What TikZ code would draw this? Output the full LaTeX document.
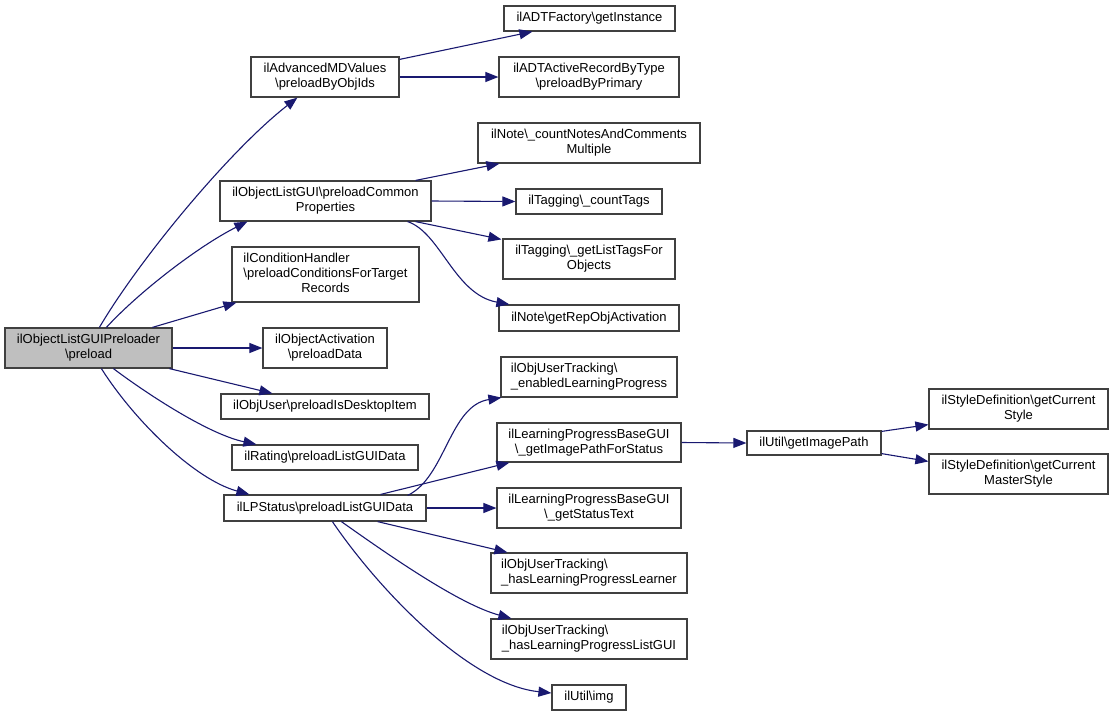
\documentclass[tikz,border=0pt]{standalone}
\usepackage{fontspec}
\setmainfont{Liberation Sans}
\usetikzlibrary{arrows.meta,calc}
\definecolor{edgec}{HTML}{191970}
\definecolor{rootfill}{HTML}{BFBFBF}
\newcommand{\bs}{\textbackslash}
\newcommand{\lt}[1]{\begin{tabular}{@{}l@{}}#1\end{tabular}}
\begin{document}
\begin{tikzpicture}[x=1pt,y=-1pt,
  box/.style={draw=black!75,line width=1.2pt,fill=white,inner sep=0pt,align=center,
    font=\fontsize{13}{15}\selectfont},
  edge/.style={draw=edgec,line width=1.1pt,-{Triangle[length=13pt,width=10pt]}}]
\useasboundingbox (0,0) rectangle (1113,716);
% column 1
\node[box,fill=rootfill,minimum width=167pt,minimum height=40pt] (root) at (88.5,348) {ilObjectListGUIPreloader\\\bs preload};
% column 2
\node[box,minimum width=148pt,minimum height=40pt] (adv) at (325,77) {ilAdvancedMDValues\\\bs preloadByObjIds};
\node[box,minimum width=211pt,minimum height=40pt] (olg) at (325.5,201) {ilObjectListGUI\bs preloadCommon\\Properties};
\node[box,minimum width=187pt,minimum height=55pt] (cond) at (325.5,274.5) {\lt{ilConditionHandler\\\bs preloadConditionsForTarget\\\multicolumn{1}{@{}c@{}}{Records}}};
\node[box,minimum width=124pt,minimum height=40pt] (oact) at (325,348) {ilObjectActivation\\\bs preloadData};
\node[box,minimum width=208pt,minimum height=25pt] (ouser) at (325,406.5) {ilObjUser\bs preloadIsDesktopItem};
\node[box,minimum width=186pt,minimum height=25pt] (rating) at (325,457.5) {ilRating\bs preloadListGUIData};
\node[box,minimum width=202pt,minimum height=26pt] (lps) at (325,508) {ilLPStatus\bs preloadListGUIData};
% column 3
\node[box,minimum width=171pt,minimum height=25pt] (adtf) at (589.5,18.5) {ilADTFactory\bs getInstance};
\node[box,minimum width=180pt,minimum height=40pt] (adtar) at (589,77) {ilADTActiveRecordByType\\\bs preloadByPrimary};
\node[box,minimum width=222pt,minimum height=40pt] (note) at (589,143) {ilNote\bs\_countNotesAndComments\\Multiple};
\node[box,minimum width=146pt,minimum height=25pt] (tagc) at (589,201.5) {ilTagging\bs\_countTags};
\node[box,minimum width=172pt,minimum height=40pt] (tagl) at (589,259) {ilTagging\bs\_getListTagsFor\\Objects};
\node[box,minimum width=180pt,minimum height=26pt] (noterep) at (589,318) {ilNote\bs getRepObjActivation};
\node[box,minimum width=176pt,minimum height=40pt] (outen) at (589,377) {\lt{ilObjUserTracking\bs\\\_enabledLearningProgress}};
\node[box,minimum width=184pt,minimum height=39pt] (lpimg) at (589,442.5) {ilLearningProgressBaseGUI\\\bs\_getImagePathForStatus};
\node[box,minimum width=184pt,minimum height=40pt] (lpst) at (589,508) {ilLearningProgressBaseGUI\\\bs\_getStatusText};
\node[box,minimum width=196pt,minimum height=40pt] (hasll) at (589,573) {\lt{ilObjUserTracking\bs\\\_hasLearningProgressLearner}};
\node[box,minimum width=196pt,minimum height=40pt] (haslg) at (589,639) {\lt{ilObjUserTracking\bs\\\_hasLearningProgressListGUI}};
\node[box,minimum width=74pt,minimum height=25pt] (img) at (589,697.5) {ilUtil\bs img};
% column 4
\node[box,minimum width=134pt,minimum height=24pt] (getimg) at (814,443) {ilUtil\bs getImagePath};
% column 5
\node[box,minimum width=179pt,minimum height=40pt] (cs) at (1018.5,409) {ilStyleDefinition\bs getCurrent\\Style};
\node[box,minimum width=179pt,minimum height=40pt] (cms) at (1018.5,474) {ilStyleDefinition\bs getCurrent\\MasterStyle};
% edges from root
\draw[edge] ($(root.north west)+(95,0)$) .. controls ($(root.north west)+(135,-68)$) and ($(adv.south west)+(-21,53)$) .. ($(adv.south west)+(47,0)$);
\draw[edge] ($(root.north west)+(102,0)$) .. controls ($(root.north west)+(135,-36)$) and ($(olg.south west)+(-20,24)$) .. ($(olg.south west)+(28,0)$);
\draw[edge] ($(root.north west)+(148,0)$) -- ($(cond.south west)+(5,0)$);
\draw[edge] (root.east) -- (oact.west);
\draw[edge] ($(root.south west)+(165,0)$) -- ($(ouser.north west)+(52,0)$);
\draw[edge] ($(root.south west)+(109,0)$) .. controls ($(root.south west)+(145,27)$) and ($(rating.north west)+(-22,-10)$) .. ($(rating.north west)+(25,0)$);
\draw[edge] ($(root.south west)+(97,0)$) .. controls ($(root.south west)+(130,52)$) and ($(lps.north west)+(-29,-15)$) .. ($(lps.north west)+(26,0)$);
% edges from adv
\draw[edge] ($(adv.north east)+(0,3)$) -- ($(adtf.south west)+(29,0)$);
\draw[edge] (adv.east) -- (adtar.west);
% edges from olg
\draw[edge] ($(olg.north east)+(-16,0)$) -- ($(note.south west)+(22,0)$);
\draw[edge] (olg.east) -- (tagc.west);
\draw[edge] ($(olg.south east)+(-16,0)$) -- ($(tagl.north west)+(-1,1)$);
\draw[edge] ($(olg.south east)+(-24,0)$) .. controls ($(olg.south east)+(9,11)$) and ($(noterep.north west)+(-44,-10)$) .. ($(noterep.north west)+(11,0)$);
% edges from lps
\draw[edge] ($(lps.north east)+(-19,1)$) .. controls ($(lps.north east)+(19,-17)$) and ($(outen.south west)+(-51,8)$) .. ($(outen.south west)+(1,0)$);
\draw[edge] ($(lps.north east)+(-46,0)$) -- ($(lpimg.south west)+(13,0)$);
\draw[edge] (lps.east) -- (lpst.west);
\draw[edge] ($(lps.south east)+(-49,0)$) -- ($(hasll.north west)+(17,0)$);
\draw[edge] ($(lps.south west)+(118,0)$) .. controls ($(lps.south west)+(166,34)$) and ($(haslg.north west)+(-31,-14)$) .. ($(haslg.north west)+(21,0)$);
\draw[edge] ($(lps.south west)+(109,0)$) .. controls ($(lps.south west)+(156,69)$) and ($(img.west)+(-82,-13)$) .. ($(img.west)+(0,-4.5)$);
% remaining
\draw[edge] (lpimg.east) -- (getimg.west);
\draw[edge] ($(getimg.north east)+(0,1)$) -- ($(cs.south west)+(0,-5)$);
\draw[edge] ($(getimg.south east)+(0,-2)$) -- ($(cms.north west)+(0,8)$);
\end{tikzpicture}
\end{document}
